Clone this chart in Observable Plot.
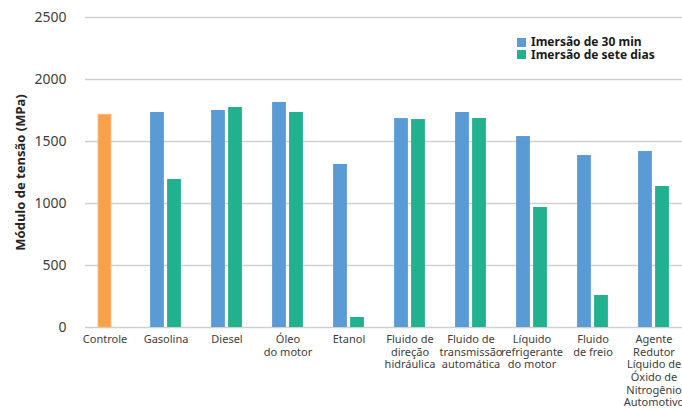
<!DOCTYPE html>
<html>
<head>
<meta charset="utf-8">
<script src="https://cdn.jsdelivr.net/npm/d3@7"></script>
<script src="https://cdn.jsdelivr.net/npm/@observablehq/plot@0.6"></script>
<style>
  body { margin: 0; background: #fff; font-family: "Noto Sans", sans-serif; }
  #wrap { position: relative; width: 682px; height: 409px; overflow: hidden; }
  #legend { position: absolute; left: 517px; top: 36px; font: bold 12px "Noto Sans", sans-serif; color: #1a1a1a; }
  #legend .row { display: flex; align-items: center; height: 12.5px; line-height: 12.5px; white-space: nowrap; }
  #legend .sw { width: 9px; height: 9px; margin-right: 5px; flex: none; }
  g[aria-label="y-axis label"] text { font-weight: bold; }
</style>
</head>
<body>
<div id="wrap"><div id="legend"></div></div>
<script>
const categories = ["Controle", "Gasolina", "Diesel", "Óleo\ndo motor", "Etanol", "Fluido de\ndireção\nhidráulica", "Fluido de\ntransmissão\nautomática", "Líquido\nrefrigerante\ndo motor", "Fluido\nde freio", "Agente\nRedutor\nLíquido de\nÓxido de\nNitrogênio\nAutomotivo"];
const controlValue = 1715;
const values30min = [null, 1734, 1750, 1815, 1315, 1685, 1734, 1540, 1387, 1419];
const values7days = [null, 1194, 1774, 1734, 81, 1677, 1685, 968, 258, 1137];
const seriesNames = ["Imersão de 30 min", "Imersão de sete dias"];
const seriesColors = ["#5b9bd5", "#21b18f"];
const controlColor = "#f8a14a";
const yTicks = [0, 500, 1000, 1500, 2000, 2500];

const controlData = [{cat: categories[0], v: controlValue}];
const d30 = categories.map((c, i) => ({cat: c, v: values30min[i]})).filter(d => d.v != null);
const d7 = categories.map((c, i) => ({cat: c, v: values7days[i]})).filter(d => d.v != null);

const inset = 23.6;
const chart = Plot.plot({
  width: 682,
  height: 409,
  marginLeft: 73,
  marginRight: -3,
  marginTop: 17,
  marginBottom: 82,
  style: {fontFamily: "Noto Sans, sans-serif", color: "#404040", background: "transparent"},
  x: {domain: categories, padding: 0},
  y: {domain: [0, 2500]},
  marks: [
    Plot.ruleY(yTicks, {stroke: "#d0d0d0", strokeWidth: 1.6, insetLeft: 12}),
    Plot.barY(controlData, {x: "cat", y: "v", fill: controlColor, stroke: "#fab676", strokeWidth: 1, insetLeft: inset + 0.5, insetRight: inset + 0.5}),
    Plot.barY(d30, {x: "cat", y: "v", fill: seriesColors[0], insetLeft: inset, insetRight: inset, dx: -8.5}),
    Plot.barY(d7, {x: "cat", y: "v", fill: seriesColors[1], insetLeft: inset, insetRight: inset, dx: 8.5}),
    Plot.axisY({ticks: yTicks, tickFormat: d => String(d), tickSize: 0, tickPadding: 7, fontSize: 14, label: "Módulo de tensão (MPa)", labelAnchor: "center", labelArrow: "none", labelOffset: 58}),
    Plot.axisX({tickSize: 0, tickPadding: 7, fontSize: 11, lineHeight: 1.14, label: null})
  ]
});
chart.querySelectorAll('g[aria-label="y-axis label"] text').forEach(t => { t.setAttribute("font-size", 13); t.setAttribute("fill", "#262626"); });
document.getElementById("wrap").prepend(chart);

const legend = document.getElementById("legend");
seriesNames.forEach((name, i) => {
  const row = document.createElement("div");
  row.className = "row";
  const sw = document.createElement("span");
  sw.className = "sw";
  sw.style.background = seriesColors[i];
  const tx = document.createElement("span");
  tx.textContent = name;
  row.append(sw, tx);
  legend.append(row);
});
</script>
</body>
</html>
